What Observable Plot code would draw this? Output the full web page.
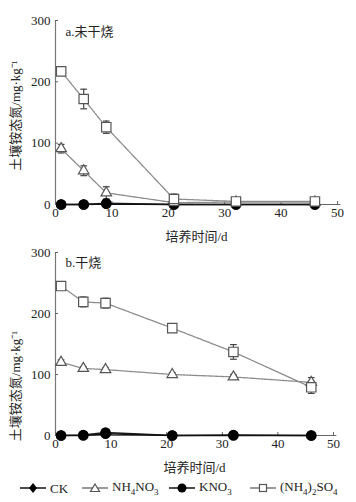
<!DOCTYPE html>
<html><head><meta charset="utf-8">
<script src="https://cdn.jsdelivr.net/npm/d3@7"></script>
<script src="https://cdn.jsdelivr.net/npm/@observablehq/plot@0.6"></script>
<style>
html,body{margin:0;padding:0;background:#fff;}
#wrap{width:356px;height:502px;position:relative;overflow:hidden;font-family:"Liberation Serif","Noto Sans CJK SC",serif;}
#a svg,#b svg{display:block;}
.legend{position:absolute;left:0;top:477px;width:356px;height:22px;font-size:13px;color:#222;}
.legend .it{position:absolute;top:0;height:22px;display:flex;align-items:center;white-space:nowrap;}
.legend svg{display:block;}
</style></head>
<body><div id="wrap"><div id="a"></div><div id="b"></div><div class="legend" id="leg"></div></div>
<script>
const days = [1, 5, 9, 21, 32, 46];
const seriesNames = ["CK", "NH4NO3", "KNO3", "(NH4)2SO4"];
// Panel a: 未干烧
const a_CK = [0, 0, 1, 0, 0, 0];
const a_NH4NO3 = [91, 55, 19, 3, 4, 4];
const a_KNO3 = [0, 0, 2, 0, 0, 0];
const a_NH42SO4 = [217, 172, 126, 9, 5, 5];
const a_NH4NO3_err = [7, 8, 10, 2, 2, 2];
const a_NH42SO4_err = [5, 16, 10, 8, 3, 3];
// Panel b: 干烧
const b_CK = [0, 0, 3, 0, 0, 0];
const b_NH4NO3 = [120, 110, 108, 100, 96, 87];
const b_KNO3 = [0, 1, 5, 0, 1, 0];
const b_NH42SO4 = [245, 219, 217, 176, 137, 79];
const b_NH4NO3_err = [4, 3, 3, 3, 4, 8];
const b_NH42SO4_err = [3, 8, 8, 3, 12, 10];
const xTicks = [0, 10, 20, 30, 40, 50];
const yTicks = [0, 100, 200, 300];
const xTitle = "培养时间/d";
const yTitle = "土壤铵态氮/mg·kg⁻¹";

function rows(vals, errs, name) {
  return days.map((d, i) => ({day: d, v: vals[i], e: errs ? errs[i] : 0, s: name}));
}

function panel(id, label, data, o) {
  const [ck, nn, kn, ns] = data;
  const font = '"Liberation Serif","Noto Sans CJK SC",serif';
  const errRows = nn.concat(ns).filter(d => d.e > 0);
  const chart = Plot.plot({
    width: 356,
    height: o.h,
    marginTop: o.mt,
    marginBottom: o.mb,
    marginLeft: 55,
    marginRight: o.mr,
    style: {fontFamily: font, fontSize: "13px", color: "#222", background: "#fff"},
    x: {domain: [0, 50], ticks: xTicks},
    y: {domain: [0, 300], ticks: yTicks},
    marks: [
      Plot.ruleX([0], {stroke: "#777", strokeWidth: 1.2}),
      Plot.ruleY([0], {x1: 0, x2: 50.6, stroke: "#666", strokeWidth: 1}),
      Plot.axisY({ticks: yTicks, tickSize: -3, tickPadding: 8, label: null, stroke: "#666", fontSize: 13}),
      Plot.axisX({ticks: xTicks, tickSize: -3, tickPadding: 6, label: null, stroke: "#666", fontSize: 13}),
      Plot.text([xTitle], {frameAnchor: "bottom", dy: 32, lineAnchor: "middle", textAnchor: "middle", fontSize: 13, fill: "#222"}),
      Plot.text([yTitle], {frameAnchor: "left", rotate: -90, dx: -40, dy: o.ylab, textAnchor: "middle", lineAnchor: "middle", fontSize: 13, fill: "#222"}),
      Plot.text([label], {frameAnchor: "top-left", dx: 10, dy: o.labdy, lineAnchor: "middle", fontSize: 13, fill: "#222", textAnchor: "start"}),
      Plot.line(ns, {x: "day", y: "v", stroke: "#8a8a8a", strokeWidth: 1.3, strokeDasharray: "2,1"}),
      Plot.line(nn, {x: "day", y: "v", stroke: "#8a8a8a", strokeWidth: 1.3, strokeDasharray: "2,1"}),
      Plot.line(kn, {x: "day", y: "v", stroke: "#222", strokeWidth: 1.5}),
      Plot.line(ck, {x: "day", y: "v", stroke: "#111", strokeWidth: 1.5}),
      Plot.ruleX(errRows, {x: "day", y1: d => d.v - d.e, y2: d => d.v + d.e, stroke: "#444", strokeWidth: 1.2}),
      Plot.link(errRows, {x1: d => d.day - 0.6, x2: d => d.day + 0.6, y1: d => d.v - d.e, y2: d => d.v - d.e, stroke: "#444", strokeWidth: 1.2}),
      Plot.link(errRows, {x1: d => d.day - 0.6, x2: d => d.day + 0.6, y1: d => d.v + d.e, y2: d => d.v + d.e, stroke: "#444", strokeWidth: 1.2}),
      Plot.dot(ck, {x: "day", y: "v", r: 4.5, fill: "#000", stroke: "#000"}),
      Plot.dot(kn, {x: "day", y: "v", r: 4.5, fill: "#000", stroke: "#000"}),
      Plot.dot(nn, {x: "day", y: "v", symbol: "triangle", r: 3.9, fill: "#fff", stroke: "#555", strokeWidth: 1.2}),
      Plot.dot(ns, {x: "day", y: "v", symbol: "square", r: 5.3, fill: "#fff", stroke: "#555", strokeWidth: 1.2})
    ]
  });
  document.getElementById(id).appendChild(chart);
}

panel("a", "a.未干烧", [rows(a_CK, null, "CK"), rows(a_NH4NO3, a_NH4NO3_err, "NH4NO3"), rows(a_KNO3, null, "KNO3"), rows(a_NH42SO4, a_NH42SO4_err, "(NH4)2SO4")],
  {h: 245, mt: 20, mb: 41, mr: 19, ylab: 3, labdy: 11});
panel("b", "b.干烧", [rows(b_CK, null, "CK"), rows(b_NH4NO3, b_NH4NO3_err, "NH4NO3"), rows(b_KNO3, null, "KNO3"), rows(b_NH42SO4, b_NH42SO4_err, "(NH4)2SO4")],
  {h: 235, mt: 7, mb: 45, mr: 23, ylab: 42, labdy: 10});

// Legend
const legItems = [
  {html: "CK", left: 18, mark: "smallcircle"},
  {html: "NH<sub style='font-size:9px'>4</sub>NO<sub style='font-size:9px'>3</sub>", left: 80, mark: "triangle"},
  {html: "KNO<sub style='font-size:9px'>3</sub>", left: 167, mark: "circle"},
  {html: "(NH<sub style='font-size:9px'>4</sub>)<sub style='font-size:9px'>2</sub>SO<sub style='font-size:9px'>4</sub>", left: 248, mark: "square"}
];
const leg = document.getElementById("leg");
legItems.forEach(it => {
  const div = document.createElement("div");
  div.className = "it";
  div.style.left = it.left + "px";
  let m = "";
  if (it.mark === "smallcircle") m = '<path d="M15,6 L19,11 L15,16 L11,11Z" fill="#000"/>';
  if (it.mark === "circle") m = '<circle cx="15" cy="11" r="4.5" fill="#000"/>';
  if (it.mark === "triangle") m = '<path d="M15,7 L19.5,14.5 L10.5,14.5Z" fill="#fff" stroke="#555" stroke-width="1.2"/>';
  if (it.mark === "square") m = '<rect x="11.5" y="7.5" width="7" height="7" fill="#fff" stroke="#555" stroke-width="1.2"/>';
  const stroke = (it.mark === "triangle" || it.mark === "square") ? "#777" : "#111";
  div.innerHTML = '<svg width="30" height="22"><line x1="2" x2="28" y1="11" y2="11" stroke="' + stroke + '" stroke-width="1.5"/>' + m + '</svg><span style="margin-left:2px;line-height:1">' + it.html + '</span>';
  leg.appendChild(div);
});
</script></body></html>
